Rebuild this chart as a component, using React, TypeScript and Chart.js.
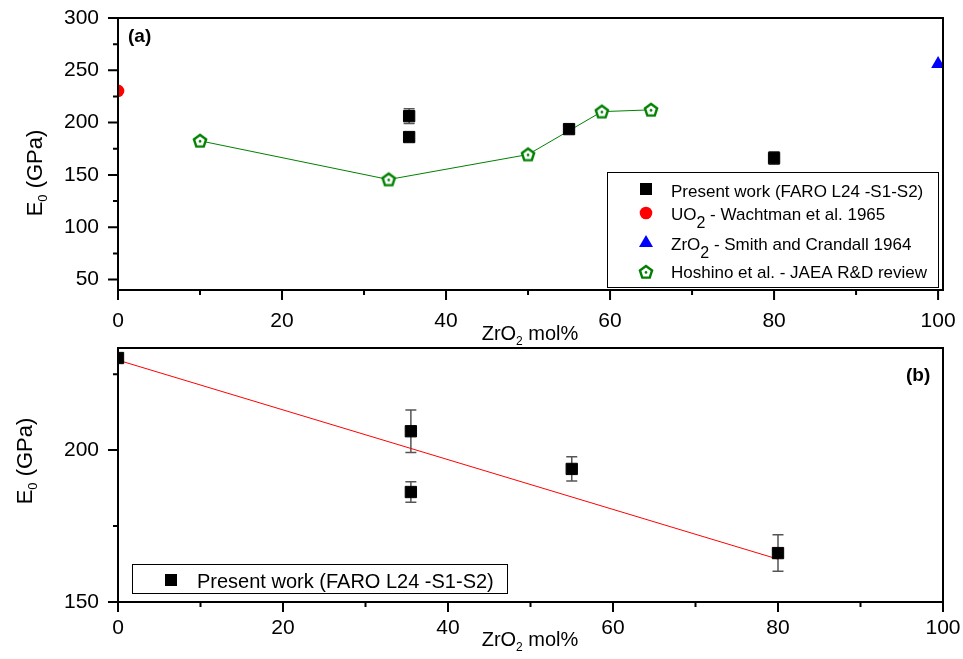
import React, { useEffect, useRef } from 'react';
import { Chart, registerables } from 'chart.js';
Chart.register(...registerables);

// ---------- data ----------
const presentX = [35.5, 35.5, 55, 80];
const presentY = [206.2, 186.2, 193.8, 166.1];
const presentErr = [7, 3.4, 4, 6];
const uo2X = [0];
const uo2Y = [230.3];
const zro2X = [100];
const zro2Y = [256];
const hoshinoX = [10, 33, 50, 59, 65];
const hoshinoY = [182.6, 145.6, 169.5, 210.5, 212.2];
const fitLineX = [0, 80];
const fitLineY = [229.6, 164.1];

const xTickValues = [0, 10, 20, 30, 40, 50, 60, 70, 80, 90, 100];
const topYTickValues = [50, 75, 100, 125, 150, 175, 200, 225, 250, 275, 300];
const botYTickValues = [150, 175, 200, 225];

const FONT = '"Liberation Sans", Arial, Helvetica, sans-serif';

type Part = { t: string; sub?: boolean };

function drawRich(ctx: CanvasRenderingContext2D, x: number, y: number, parts: Part[], size: number, subSize: number, subDy: number, align: 'left' | 'center') {
  let w = 0;
  parts.forEach((p) => {
    ctx.font = `${p.sub ? subSize : size}px ${FONT}`;
    w += ctx.measureText(p.t).width;
  });
  let cx = align === 'center' ? x - w / 2 : x;
  ctx.textAlign = 'left';
  ctx.textBaseline = 'alphabetic';
  parts.forEach((p) => {
    ctx.font = `${p.sub ? subSize : size}px ${FONT}`;
    ctx.fillText(p.t, cx, y + (p.sub ? subDy : 0));
    cx += ctx.measureText(p.t).width;
  });
}

function makePentagon(): HTMLCanvasElement {
  const c = document.createElement('canvas');
  c.width = 18;
  c.height = 18;
  const g = c.getContext('2d')!;
  const cx = 9, cy = 9.4, r = 6.4;
  g.beginPath();
  for (let i = 0; i < 5; i++) {
    const a = -Math.PI / 2 + (i * 2 * Math.PI) / 5;
    const px = cx + r * Math.cos(a);
    const py = cy + r * Math.sin(a);
    if (i === 0) g.moveTo(px, py);
    else g.lineTo(px, py);
  }
  g.closePath();
  g.fillStyle = '#fff';
  g.fill();
  g.lineWidth = 2.4;
  g.strokeStyle = '#008000';
  g.stroke();
  g.beginPath();
  g.arc(cx, cy, 1.3, 0, Math.PI * 2);
  g.fillStyle = '#008000';
  g.fill();
  return c;
}

function drawFrameAndTicks(chart: any, xMajor: (v: number) => boolean, yTicks: number[], yMajor: (v: number) => boolean) {
  const { ctx, chartArea } = chart;
  const { left, right, top, bottom } = chartArea;
  const xs = chart.scales.x;
  const ys = chart.scales.y;
  ctx.save();
  ctx.strokeStyle = '#000';
  ctx.lineWidth = 2;
  ctx.beginPath();
  xTickValues.forEach((v) => {
    const px = xs.getPixelForValue(v);
    const len = xMajor(v) ? 10 : 5;
    ctx.moveTo(px, bottom);
    ctx.lineTo(px, bottom + len);
  });
  yTicks.forEach((v) => {
    const py = ys.getPixelForValue(v);
    const len = yMajor(v) ? 10 : 5;
    ctx.moveTo(left, py);
    ctx.lineTo(left - len, py);
  });
  ctx.stroke();
  ctx.strokeRect(left, top, right - left, bottom - top);
  ctx.restore();
}

function drawErrors(chart: any, xsArr: number[], ysArr: number[], errs: number[]) {
  const { ctx } = chart;
  const xs = chart.scales.x;
  const ys = chart.scales.y;
  ctx.save();
  ctx.strokeStyle = '#555';
  ctx.lineWidth = 1.5;
  ctx.beginPath();
  xsArr.forEach((xv, i) => {
    const e = errs[i];
    if (!e) return;
    const px = xs.getPixelForValue(xv);
    const p1 = ys.getPixelForValue(ysArr[i] + e);
    const p2 = ys.getPixelForValue(ysArr[i] - e);
    ctx.moveTo(px, p1);
    ctx.lineTo(px, p2);
    ctx.moveTo(px - 5.5, p1);
    ctx.lineTo(px + 5.5, p1);
    ctx.moveTo(px - 5.5, p2);
    ctx.lineTo(px + 5.5, p2);
  });
  ctx.stroke();
  ctx.restore();
}

const isX20 = (v: number) => v % 20 === 0;
const isY50 = (v: number) => v % 50 === 0;

function zeroPad(s: any) {
  s.paddingTop = 0;
  s.paddingBottom = 0;
  s.paddingLeft = 0;
  s.paddingRight = 0;
}

function xScale(max: number, height: number, pad: number) {
  return {
    type: 'linear' as const,
    min: 0,
    max,
    afterBuildTicks: (s: any) => {
      s.ticks = xTickValues.map((v) => ({ value: v }));
    },
    afterFit: (s: any) => {
      s.height = height;
      zeroPad(s);
    },
    grid: { display: false, drawTicks: false },
    border: { display: false },
    ticks: {
      autoSkip: false,
      maxRotation: 0,
      padding: pad,
      color: '#000',
      font: { family: FONT, size: 21 },
      callback: (v: any) => (isX20(Number(v)) ? String(v) : ''),
    },
  };
}

function yScale(min: number, max: number, ticks: number[]) {
  return {
    type: 'linear' as const,
    min,
    max,
    afterBuildTicks: (s: any) => {
      s.ticks = ticks.map((v) => ({ value: v }));
    },
    afterFit: (s: any) => {
      s.width = 118;
      zeroPad(s);
    },
    grid: { display: false, drawTicks: false },
    border: { display: false },
    ticks: {
      autoSkip: false,
      padding: 19,
      color: '#000',
      font: { family: FONT, size: 21 },
      callback: (v: any) => (isY50(Number(v)) ? String(v) : ''),
    },
  };
}

function topConfig(pent: HTMLCanvasElement): any {
  const decor = {
    id: 'decorTop',
    beforeDatasetsDraw(chart: any) {
      drawErrors(chart, presentX, presentY, presentErr);
    },
    afterDraw(chart: any) {
      const ctx = chart.ctx as CanvasRenderingContext2D;
      drawFrameAndTicks(chart, isX20, topYTickValues, isY50);
      ctx.save();
      ctx.fillStyle = '#000';
      ctx.font = `bold 19px ${FONT}`;
      ctx.textAlign = 'left';
      ctx.textBaseline = 'alphabetic';
      ctx.fillText('(a)', 128, 42);
      drawRich(ctx, 530, 340, [{ t: 'ZrO' }, { t: '2', sub: true }, { t: ' mol%' }], 20, 12, 5, 'center');
      ctx.save();
      ctx.translate(42, 173);
      ctx.rotate(-Math.PI / 2);
      drawRich(ctx, 0, 0, [{ t: 'E' }, { t: '0', sub: true }, { t: ' (GPa)' }], 22, 13, 5, 'center');
      ctx.restore();
      ctx.lineWidth = 1;
      ctx.strokeStyle = '#000';
      ctx.strokeRect(607.5, 172.5, 331, 115);
      ctx.fillStyle = '#000';
      ctx.fillRect(640, 183, 12, 12);
      ctx.fillStyle = '#ff0000';
      ctx.beginPath();
      ctx.arc(646, 213, 6.3, 0, Math.PI * 2);
      ctx.fill();
      ctx.fillStyle = '#0000ff';
      ctx.beginPath();
      ctx.moveTo(646, 235);
      ctx.lineTo(653, 247);
      ctx.lineTo(639, 247);
      ctx.closePath();
      ctx.fill();
      ctx.drawImage(pent, 637, 263);
      ctx.fillStyle = '#000';
      drawRich(ctx, 671, 197, [{ t: 'Present work (FARO L24 -S1-S2)' }], 17, 15, 8, 'left');
      drawRich(ctx, 671, 220, [{ t: 'UO' }, { t: '2', sub: true }, { t: ' - Wachtman et al. 1965' }], 17, 16, 8, 'left');
      drawRich(ctx, 671, 250, [{ t: 'ZrO' }, { t: '2', sub: true }, { t: ' - Smith and Crandall 1964' }], 17, 16, 8, 'left');
      drawRich(ctx, 671, 278, [{ t: 'Hoshino et al. - JAEA R&D review' }], 17, 15, 8, 'left');
      ctx.restore();
    },
  };
  return {
    type: 'scatter',
    data: {
      datasets: [
        {
          label: 'Hoshino et al. - JAEA R&D review',
          data: hoshinoX.map((x, i) => ({ x, y: hoshinoY[i] })),
          showLine: true,
          borderColor: '#008000',
          borderWidth: 1,
          pointStyle: pent,
          pointRadius: 9,
          order: 3,
          clip: 0,
        },
        {
          label: 'Present work (FARO L24 -S1-S2)',
          data: presentX.map((x, i) => ({ x, y: presentY[i] })),
          pointStyle: 'rect',
          pointRadius: 8,
          backgroundColor: '#000',
          borderColor: '#000',
          borderWidth: 1,
          order: 1,
          clip: 0,
        },
        {
          label: 'UO2 - Wachtman et al. 1965',
          data: uo2X.map((x, i) => ({ x, y: uo2Y[i] })),
          pointStyle: 'circle',
          pointRadius: 6.3,
          backgroundColor: '#ff0000',
          borderWidth: 0,
          order: 2,
          clip: 0,
        },
        {
          label: 'ZrO2 - Smith and Crandall 1964',
          data: zro2X.map((x, i) => ({ x, y: zro2Y[i] })),
          pointStyle: 'triangle',
          pointRadius: 8,
          backgroundColor: '#0000ff',
          borderWidth: 0,
          order: 2,
          clip: 0,
        },
      ],
    },
    options: {
      responsive: false,
      animation: false,
      events: [],
      layout: { padding: { top: 18, right: 20, left: 0, bottom: 0 } },
      plugins: { legend: { display: false }, tooltip: { enabled: false } },
      scales: {
        x: xScale(100.6, 55, 19),
        y: yScale(40, 300, topYTickValues),
      },
    },
    plugins: [decor],
  };
}

function bottomConfig(): any {
  const fitX = [uo2X[0], ...presentX];
  const fitY = [uo2Y[0], ...presentY];
  const fitErr = [0, ...presentErr];
  const decor = {
    id: 'decorBottom',
    beforeDatasetsDraw(chart: any) {
      drawErrors(chart, fitX, fitY, fitErr);
    },
    afterDraw(chart: any) {
      const ctx = chart.ctx as CanvasRenderingContext2D;
      const oy = 320;
      drawFrameAndTicks(chart, isX20, botYTickValues, isY50);
      ctx.save();
      ctx.fillStyle = '#000';
      ctx.font = `bold 19px ${FONT}`;
      ctx.textAlign = 'left';
      ctx.textBaseline = 'alphabetic';
      ctx.fillText('(b)', 906, 381 - oy);
      drawRich(ctx, 530, 646 - oy, [{ t: 'ZrO' }, { t: '2', sub: true }, { t: ' mol%' }], 20, 12, 5, 'center');
      ctx.save();
      ctx.translate(32, 461 - oy);
      ctx.rotate(-Math.PI / 2);
      drawRich(ctx, 0, 0, [{ t: 'E' }, { t: '0', sub: true }, { t: ' (GPa)' }], 22, 13, 5, 'center');
      ctx.restore();
      ctx.lineWidth = 1;
      ctx.strokeStyle = '#000';
      ctx.strokeRect(132.5, 564.5 - oy, 375, 29);
      ctx.fillStyle = '#000';
      ctx.fillRect(165, 574 - oy, 12, 12);
      drawRich(ctx, 197, 588 - oy, [{ t: 'Present work (FARO L24 -S1-S2)' }], 20, 15, 8, 'left');
      ctx.restore();
    },
  };
  return {
    type: 'scatter',
    data: {
      datasets: [
        {
          label: 'Linear fit',
          data: fitLineX.map((x, i) => ({ x, y: fitLineY[i] })),
          showLine: true,
          borderColor: '#ff0000',
          borderWidth: 1,
          pointRadius: 0,
          order: 2,
          clip: 0,
        },
        {
          label: 'Present work (FARO L24 -S1-S2)',
          data: fitX.map((x, i) => ({ x, y: fitY[i] })),
          pointStyle: 'rect',
          pointRadius: 8,
          backgroundColor: '#000',
          borderColor: '#000',
          borderWidth: 1,
          order: 1,
          clip: 0,
        },
      ],
    },
    options: {
      responsive: false,
      animation: false,
      events: [],
      layout: { padding: { top: 28, right: 20, left: 0, bottom: 0 } },
      plugins: { legend: { display: false }, tooltip: { enabled: false } },
      scales: {
        x: xScale(100, 57, 14),
        y: yScale(150, 233.6, botYTickValues),
      },
    },
    plugins: [decor],
  };
}

export default function App() {
  const topRef = useRef<HTMLCanvasElement>(null);
  const botRef = useRef<HTMLCanvasElement>(null);
  useEffect(() => {
    const pent = makePentagon();
    const c1 = new Chart(topRef.current!, topConfig(pent));
    const c2 = new Chart(botRef.current!, bottomConfig());
    return () => {
      c1.destroy();
      c2.destroy();
    };
  }, []);
  return (
    <div style={{ position: 'absolute', left: 0, top: 0, width: 963, height: 659, background: '#fff' }}>
      <canvas ref={topRef} width={963} height={345} style={{ position: 'absolute', left: 0, top: 0, width: 963, height: 345 }} />
      <canvas ref={botRef} width={963} height={339} style={{ position: 'absolute', left: 0, top: 320, width: 963, height: 339 }} />
    </div>
  );
}
